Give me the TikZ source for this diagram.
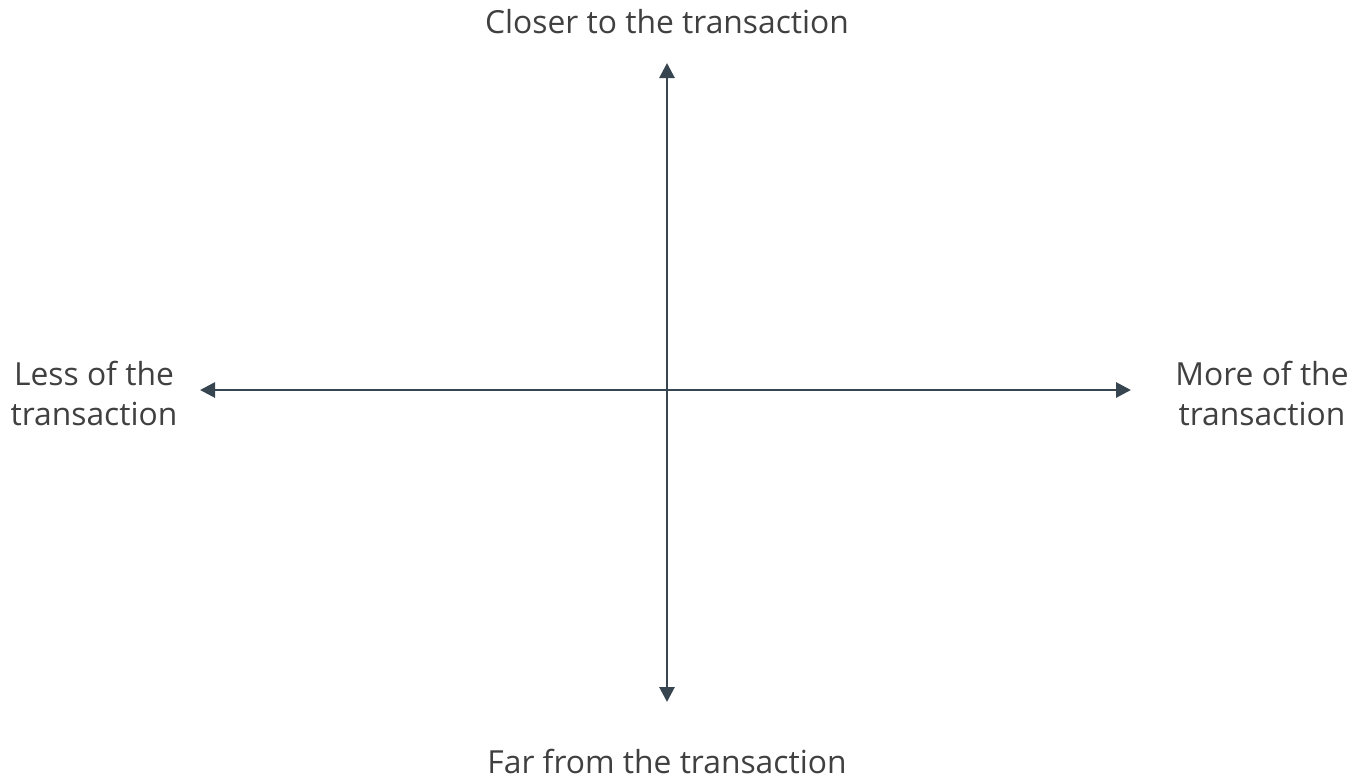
\documentclass[tikz,border=0pt]{standalone}
\usepackage{fontspec}
\setmainfont{Open Sans}
\usetikzlibrary{arrows.meta}
\definecolor{axisgray}{HTML}{36454F}
\definecolor{labelgray}{HTML}{404040}
\begin{document}
\begin{tikzpicture}[x=1pt,y=-1pt,
  axisline/.style={draw=axisgray,line width=2.8pt,
    arrows={Triangle[length=15pt,width=15pt]-Triangle[length=15pt,width=15pt]}},
  axislabel/.style={text=labelgray,font=\fontsize{31.8}{40}\selectfont,inner sep=0pt,anchor=base,align=center}]
  \useasboundingbox (0,0) rectangle (1358,780);
  % axis end points
  \coordinate (top) at (667,63);
  \coordinate (bottom) at (667,702);
  \coordinate (left) at (200,390);
  \coordinate (right) at (1131,390);
  % axes
  \draw[axisline] (bottom) -- (top);
  \draw[axisline] (left) -- (right);
  % labels
  \node[axislabel] (closer) at (667,33) {Closer to the transaction};
  \node[axislabel] (far) at (667,773) {Far from the transaction};
  \node[axislabel] (less1) at (94,385) {Less of the};
  \node[axislabel] (less2) at (94,425) {transaction};
  \node[axislabel] (more1) at (1262,385) {More of the};
  \node[axislabel] (more2) at (1262,425) {transaction};
\end{tikzpicture}
\end{document}
